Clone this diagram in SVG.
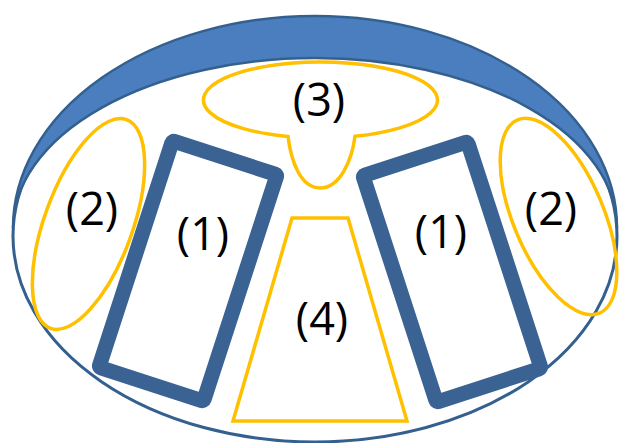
<svg xmlns="http://www.w3.org/2000/svg" width="619" height="443" viewBox="0 0 619 443">
<style>
.blue{fill:none;stroke:#3A6293;stroke-width:15;stroke-linejoin:round}
.yel{fill:none;stroke:#FFC000;stroke-width:3.5}
.lbl{font-family:"Open Sans","DejaVu Sans",sans-serif;font-size:45px;fill:#000;text-anchor:middle}
</style>
<rect width="619" height="443" fill="#fff"/>
<g id="body">
<ellipse cx="315" cy="236" rx="302" ry="206" fill="none" stroke="#34608F" stroke-width="3"/>
<path d="M 13 228 A 302 212 0 0 1 617 228 A 302 170 0 0 0 13 228 Z" fill="#4A7EBE" stroke="#34608F" stroke-width="2.5"/>
</g>
<g id="node3">
<path class="yel" d="M 288 136.5 A 117 38 0 1 1 355 136.3 C 352 160 340 188 320 188 C 300 188 291 160 288 136.5 Z"/>
<text class="lbl" x="319" y="116">(3)</text>
</g>
<g id="node2-left">
<ellipse class="yel" cx="88.5" cy="224" rx="44" ry="111" transform="rotate(20 88.5 224)"/>
<text class="lbl" x="92" y="225">(2)</text>
</g>
<g id="node2-right">
<ellipse class="yel" cx="558.5" cy="216.5" rx="45" ry="105" transform="rotate(-23 558.5 216.5)"/>
<text class="lbl" x="551" y="225">(2)</text>
</g>
<g id="node1-left">
<rect class="blue" x="133" y="152" width="110" height="238" rx="2" transform="rotate(18 188 271)"/>
<text class="lbl" x="203" y="250">(1)</text>
</g>
<g id="node1-right">
<rect class="blue" x="397" y="153" width="110" height="238" rx="2" transform="rotate(-18 452 272)"/>
<text class="lbl" x="441" y="248">(1)</text>
</g>
<g id="node4">
<polygon class="yel" points="292,218 348,218 407,421 233,421"/>
<text class="lbl" x="322" y="335">(4)</text>
</g>
<g id="connectors"></g>
</svg>
